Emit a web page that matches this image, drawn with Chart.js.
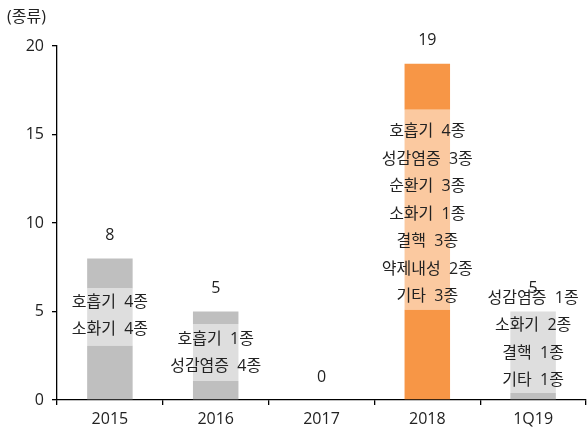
<!DOCTYPE html>
<html>
<head>
<meta charset="utf-8">
<script src="https://cdn.jsdelivr.net/npm/chart.js@4"></script>
<style>
  html, body { margin: 0; padding: 0; background: #fff; }
  #wrap { width: 587px; height: 440px; position: relative; }
</style>
</head>
<body>
<div id="wrap"><canvas id="grafico"></canvas></div>
<script>
// 데이터
const categorias = ['2015', '2016', '2017', '2018', '1Q19'];
const totais = [8, 5, 0, 19, 5];
// 밝은 구간(설명 박스) 아래/위 경계값
const faixaBaixo = [3.06, 1.07, 0, 5.1, 0.4];
const faixaAlto = [6.3, 4.3, 0, 16.4, 5];
// 설명 텍스트 블록의 중심 위치 (값 단위)
const centroTexto = [4.75, 2.67, 0, 10.5, 3.42];
const textos = [
  ['호흡기  4종', '소화기  4종'],
  ['호흡기  1종', '성감염증  4종'],
  [],
  ['호흡기  4종', '성감염증  3종', '순환기  3종', '소화기  1종', '결핵  3종', '약제내성  2종', '기타  3종'],
  ['성감염증  1종', '소화기  2종', '결핵  1종', '기타  1종']
];
const ticksY = [0, 5, 10, 15, 20];

const escuro = ['#bfbfbf', '#bfbfbf', '#bfbfbf', '#f79646', '#bfbfbf'];
const claro = ['#dedede', '#dedede', '#dedede', '#fbc9a0', '#dedede'];

const seg1 = faixaBaixo;
const seg2 = faixaAlto.map((v, i) => v - faixaBaixo[i]);
const seg3 = totais.map((v, i) => v - faixaAlto[i]);

const fonte = "'Open Sans', 'Noto Sans CJK KR', sans-serif";

const rotulos = {
  id: 'rotulos',
  afterDatasetsDraw(chart) {
    const { ctx, scales: { x, y } } = chart;
    ctx.save();
    ctx.fillStyle = '#222';
    ctx.font = '16px ' + fonte;
    ctx.textAlign = 'center';
    ctx.textBaseline = 'middle';
    categorias.forEach((c, i) => {
      const cx = x.getPixelForValue(i);
      ctx.fillText(String(totais[i]), cx, y.getPixelForValue(totais[i]) - 23);
      const linhas = textos[i];
      const passo = 27.5;
      const y0 = y.getPixelForValue(centroTexto[i]) - (linhas.length - 1) * passo / 2;
      linhas.forEach((t, k) => ctx.fillText(t, cx, y0 + k * passo));
    });
    ctx.textAlign = 'left';
    ctx.fillText('(종류)', 7, 17);
    ctx.restore();
  }
};

new Chart(document.getElementById('grafico'), {
  type: 'bar',
  data: {
    labels: categorias,
    datasets: [
      { data: seg1, backgroundColor: escuro },
      { data: seg2, backgroundColor: claro },
      { data: seg3, backgroundColor: escuro }
    ]
  },
  options: {
    responsive: true,
    maintainAspectRatio: false,
    animation: false,
    layout: { padding: { top: 46, right: 1, left: 0, bottom: 0 } },
    plugins: { legend: { display: false }, tooltip: { enabled: false } },
    datasets: { bar: { categoryPercentage: 1, barPercentage: 0.43 } },
    scales: {
      x: {
        stacked: true,
        offset: true,
        border: { color: '#000', width: 1.3 },
        grid: { offset: true, drawOnChartArea: false, tickLength: 5, color: '#000', lineWidth: 1.3 },
        ticks: { color: '#222', font: { family: fonte, size: 16 }, padding: 5 },
        afterFit(s) { s.height = 40; }
      },
      y: {
        stacked: true,
        min: 0,
        max: 20,
        border: { color: '#000', width: 1.3 },
        grid: { drawOnChartArea: false, tickLength: 5, color: '#000', lineWidth: 1.3 },
        afterBuildTicks(s) { s.ticks = ticksY.map(v => ({ value: v })); },
        ticks: { color: '#222', font: { family: fonte, size: 16 }, padding: 8 },
        afterFit(s) { s.width = 57; }
      }
    }
  },
  plugins: [rotulos]
});
</script>
</body>
</html>
